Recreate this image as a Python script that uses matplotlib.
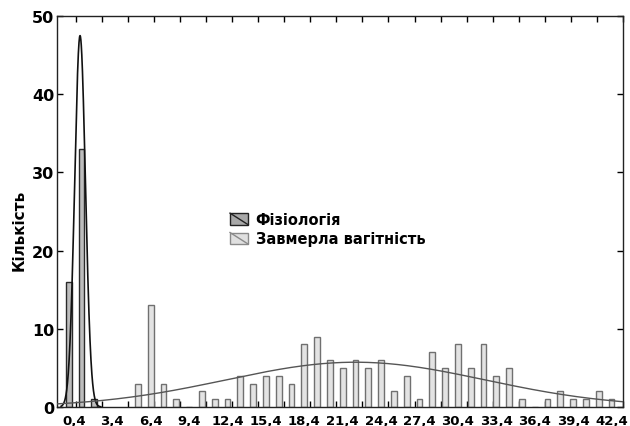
import numpy as np
import matplotlib
matplotlib.use("Agg")
import matplotlib.pyplot as plt
from matplotlib.patches import Rectangle, Patch
from matplotlib.lines import Line2D
from matplotlib.legend_handler import HandlerBase

# ---- data ----
phys_x = [0.0, 1.0, 2.0]
phys_counts = [16, 33, 1]

misc_x = [5.4, 6.4, 7.4, 8.4, 9.4, 10.4, 11.4, 12.4, 13.4, 14.4, 15.4, 16.4,
          17.4, 18.4, 19.4, 20.4, 21.4, 22.4, 23.4, 24.4, 25.4, 26.4, 27.4,
          28.4, 29.4, 30.4, 31.4, 32.4, 33.4, 34.4, 35.4, 36.4, 37.4, 38.4,
          39.4, 40.4, 41.4, 42.4]
misc_counts = [3, 13, 3, 1, 0, 2, 1, 1, 4, 3, 4, 4,
               3, 8, 9, 6, 5, 6, 5, 6, 2, 4, 1,
               7, 5, 8, 5, 8, 4, 5, 1, 0, 1, 2,
               1, 1, 2, 1]

# fitted normal curves (mean, sd, n)
phys_fit = (0.88, 0.42, 50)
misc_fit = (22.4, 10.1, 145)

xtick_vals = [0.4, 3.4, 6.4, 9.4, 12.4, 15.4, 18.4, 21.4, 24.4, 27.4,
              30.4, 33.4, 36.4, 39.4, 42.4]
xtick_labels = ["0,4", "3,4", "6,4", "9,4", "12,4", "15,4", "18,4", "21,4",
                "24,4", "27,4", "30,4", "33,4", "36,4", "39,4", "42,4"]
ytick_vals = [0, 10, 20, 30, 40, 50]

labels = ["Фізіологія", "Завмерла вагітність"]

# ---- styling ----
plt.rcParams['font.family'] = ['DejaVu Sans']
fig = plt.figure(figsize=(6.3, 4.27), dpi=100)
ax = fig.add_axes([57/630, 1-408/427, (623-57)/630, (408-17)/427])

phys_face, phys_edge = '#bdbdbd', '#2a2a2a'
misc_face, misc_edge = '#e3e3e3', '#707070'

ax.bar(phys_x, phys_counts, width=0.45, color=phys_face, edgecolor=phys_edge,
       linewidth=1.0, zorder=2)
ax.bar(misc_x, misc_counts, width=0.45, color=misc_face, edgecolor=misc_edge,
       linewidth=1.0, zorder=2)

def normal_curve(xs, mean, sd, n, bw=1.0):
    return n * bw / (sd * np.sqrt(2*np.pi)) * np.exp(-0.5*((xs-mean)/sd)**2)

xs1 = np.linspace(-0.6, 2.5, 300)
ax.plot(xs1, normal_curve(xs1, *phys_fit), color='#111111', lw=1.2, zorder=3)
xs2 = np.linspace(-0.9, 43.3, 400)
ax.plot(xs2, normal_curve(xs2, *misc_fit), color='#555555', lw=1.0, zorder=3)

ax.set_xlim(-0.92, 43.3)
ax.set_ylim(0, 50)

ax.set_xticks(xtick_vals)
ax.set_xticklabels(xtick_labels, fontsize=9.5, fontweight='bold')
ax.set_xticks(np.linspace(0.55, 43.3, 22), minor=True)
ax.tick_params(axis='x', which='major', length=0, pad=5)
ax.tick_params(axis='x', which='minor', direction='in', length=4, top=True,
               bottom=True, width=1)

ax.set_yticks(ytick_vals)
ax.set_yticklabels([str(v) for v in ytick_vals], fontsize=11.5, fontweight='bold')
ax.tick_params(axis='y', which='major', direction='in', length=4, left=True,
               right=True, pad=2, width=1)

for s in ax.spines.values():
    s.set_linewidth(1.0)
    s.set_color('#222222')

ax.set_ylabel("Кількість", fontsize=11, fontweight='bold')
ax.yaxis.set_label_coords(-0.053, 0.455)


class DiagPatchHandler(HandlerBase):
    def create_artists(self, legend, orig_handle, xdescent, ydescent, width,
                       height, fontsize, trans):
        r = Rectangle((-xdescent, -ydescent), width, height,
                      facecolor=orig_handle.get_facecolor(),
                      edgecolor=orig_handle.get_edgecolor(), lw=1.0,
                      transform=trans)
        l = Line2D([-xdescent, -xdescent + width],
                   [-ydescent + height, -ydescent],
                   color=orig_handle.get_edgecolor(), lw=1.0, transform=trans)
        return [r, l]


h1 = Patch(facecolor='#a8a8a8', edgecolor='#222222')
h2 = Patch(facecolor='#e0e0e0', edgecolor='#8a8a8a')
leg = ax.legend([h1, h2], labels, loc='upper left',
                bbox_to_anchor=((230-57)/566, (408-213)/391),
                frameon=False, borderpad=0, borderaxespad=0,
                handlelength=1.25, handleheight=0.85, handletextpad=0.5,
                labelspacing=0.3,
                prop={'size': 10.5, 'weight': 'bold'},
                handler_map={Patch: DiagPatchHandler()})

fig.savefig("out.png", dpi=100)
